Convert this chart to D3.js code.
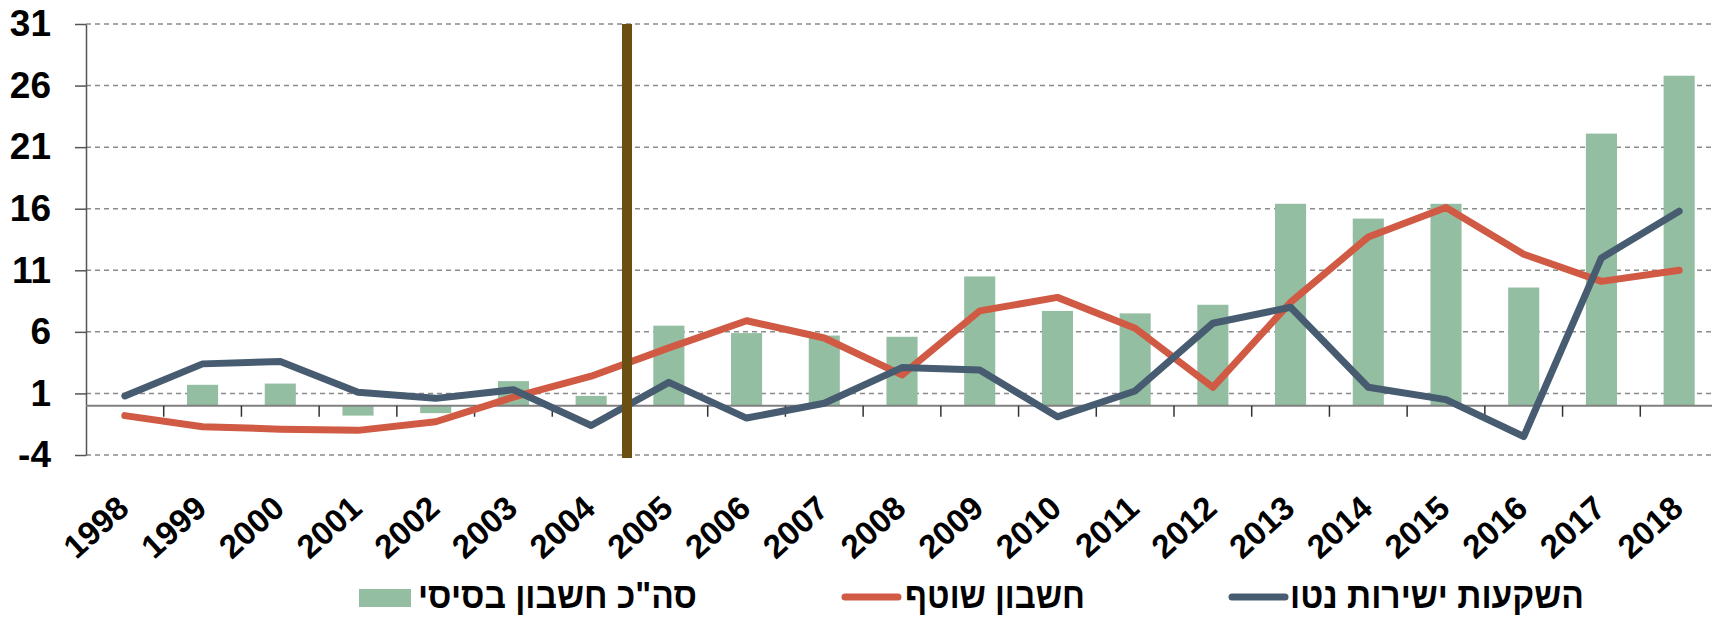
<!DOCTYPE html>
<html lang="he">
<head>
    <meta charset="UTF-8">
    <title>חשבון שוטף, חשבון בסיסי והשקעות ישירות</title>
    <script src="https://d3js.org/d3.v7.min.js"></script>
    <style>
        body {
            margin: 0;
            background: #fff;
            font-family: "Liberation Sans", Arial, sans-serif;
        }
        #chart {
            width: 1712px;
            height: 617px;
        }
    </style>
</head>
<body>
    <div id="chart"></div>

    <script>
        // data
        const years = ["1998", "1999", "2000", "2001", "2002", "2003", "2004", "2005", "2006", "2007",
            "2008", "2009", "2010", "2011", "2012", "2013", "2014", "2015", "2016", "2017", "2018"];
        const basicBalance = [0, 1.7, 1.8, -0.8, -0.6, 2.0, 0.8, 6.5, 5.9, 5.7,
            5.6, 10.5, 7.7, 7.5, 8.2, 16.4, 15.2, 16.4, 9.6, 22.1, 26.8];
        const currentAccount = [-0.8, -1.7, -1.9, -2.0, -1.3, 0.7, 2.4, 4.7, 6.9, 5.5,
            2.5, 7.7, 8.8, 6.3, 1.5, 8.4, 13.7, 16.1, 12.3, 10.1, 11.0];
        const netFdi = [0.8, 3.4, 3.6, 1.1, 0.6, 1.3, -1.6, 1.9, -1.0, 0.2,
            3.1, 2.9, -0.9, 1.2, 6.7, 8.0, 1.5, 0.5, -2.5, 12.0, 15.8];
        const yTicks = [-4, 1, 6, 11, 16, 21, 26, 31];
        const markerYear = "2005";
        const legendLabels = ["סה\"כ חשבון בסיסי", "חשבון שוטף", "השקעות ישירות נטו"];

        const width = 1712, height = 617;
        const plotLeft = 86, plotRight = 1718, plotTop = 24, plotBottom = 455;

        const svg = d3.select("#chart").append("svg")
            .attr("width", width)
            .attr("height", height);

        const x = d3.scaleBand()
            .domain(years)
            .range([plotLeft, plotRight])
            .paddingInner(0.6)
            .paddingOuter(0.3);
        const step = x.step();
        const cx = d => x(d) + x.bandwidth() / 2;
        const boundary = d => x(d) - (step - x.bandwidth()) / 2;

        const y = d3.scaleLinear()
            .domain([-4, 31])
            .range([plotBottom, plotTop]);

        // gridlines
        svg.append("g")
            .selectAll("line")
            .data(yTicks)
            .enter().append("line")
            .attr("x1", plotLeft)
            .attr("x2", width)
            .attr("y1", d => y(d))
            .attr("y2", d => y(d))
            .attr("stroke", "#8c8c8c")
            .attr("stroke-width", 1.5)
            .attr("stroke-dasharray", "5,4");

        // y axis
        const yAxis = svg.append("g")
            .attr("transform", `translate(${plotLeft},0)`)
            .call(d3.axisLeft(y).tickValues(yTicks).tickFormat(d => String(d))
                .tickSize(11).tickSizeOuter(0).tickPadding(24));
        yAxis.select(".domain").attr("stroke", "#555").attr("stroke-width", 1.5);
        yAxis.selectAll(".tick line").attr("stroke", "#555").attr("stroke-width", 1.5);
        yAxis.selectAll(".tick text")
            .attr("fill", "#000")
            .attr("font-size", 37)
            .attr("font-weight", "bold")
            .attr("font-family", "'Liberation Sans', Arial, sans-serif");

        // bars
        svg.append("g")
            .selectAll("rect")
            .data(years)
            .enter().append("rect")
            .attr("x", d => x(d))
            .attr("width", x.bandwidth())
            .attr("y", (d, i) => y(Math.max(0, basicBalance[i])))
            .attr("height", (d, i) => Math.abs(y(basicBalance[i]) - y(0)))
            .attr("fill", "#93bea1");

        // zero line with ticks between categories
        svg.append("line")
            .attr("x1", plotLeft).attr("x2", width)
            .attr("y1", y(0)).attr("y2", y(0))
            .attr("stroke", "#808080")
            .attr("stroke-width", 2);
        svg.append("g")
            .selectAll("line")
            .data(years.slice(1))
            .enter().append("line")
            .attr("x1", d => boundary(d))
            .attr("x2", d => boundary(d))
            .attr("y1", y(0))
            .attr("y2", y(0) + 11)
            .attr("stroke", "#333")
            .attr("stroke-width", 1.5);

        const line = d3.line()
            .x((d, i) => cx(years[i]))
            .y(d => y(d));

        svg.append("path")
            .datum(currentAccount)
            .attr("d", line)
            .attr("fill", "none")
            .attr("stroke", "#d05a43")
            .attr("stroke-width", 7)
            .attr("stroke-linejoin", "round")
            .attr("stroke-linecap", "round");

        svg.append("path")
            .datum(netFdi)
            .attr("d", line)
            .attr("fill", "none")
            .attr("stroke", "#475c70")
            .attr("stroke-width", 7)
            .attr("stroke-linejoin", "round")
            .attr("stroke-linecap", "round");

        // brown divider before 2005
        const markerX = boundary(markerYear) - 3;
        svg.append("line")
            .attr("x1", markerX).attr("x2", markerX)
            .attr("y1", plotTop).attr("y2", plotBottom + 3)
            .attr("stroke", "#6b4f12")
            .attr("stroke-width", 10);

        // year labels
        svg.append("g")
            .selectAll("text")
            .data(years)
            .enter().append("text")
            .attr("transform", d => `translate(${cx(d) + 6},${511}) rotate(-42)`)
            .attr("text-anchor", "end")
            .attr("font-size", 33)
            .attr("font-weight", "bold")
            .text(d => d);

        // legend
        const legend = svg.append("g").attr("font-size", 36).attr("font-weight", "bold");
        const legendText = (xRight, len, label) => legend.append("text")
            .attr("x", xRight - len).attr("y", 608)
            .attr("textLength", len)
            .attr("lengthAdjust", "spacingAndGlyphs")
            .text(label);

        legend.append("rect")
            .attr("x", 359).attr("y", 589)
            .attr("width", 52).attr("height", 18)
            .attr("fill", "#93bea1");
        legendText(697, 279, legendLabels[0]);

        legend.append("line")
            .attr("x1", 845).attr("x2", 898)
            .attr("y1", 597).attr("y2", 597)
            .attr("stroke", "#d05a43")
            .attr("stroke-width", 7)
            .attr("stroke-linecap", "round");
        legendText(1085, 180, legendLabels[1]);

        legend.append("line")
            .attr("x1", 1232).attr("x2", 1285)
            .attr("y1", 597).attr("y2", 597)
            .attr("stroke", "#475c70")
            .attr("stroke-width", 7)
            .attr("stroke-linecap", "round");
        legendText(1584, 294, legendLabels[2]);
    </script>
</body>
</html>
